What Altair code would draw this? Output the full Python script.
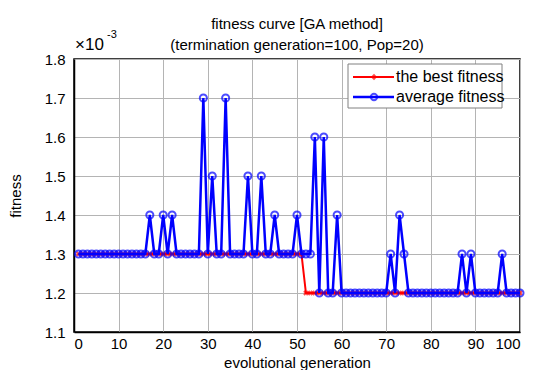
import altair as alt
import pandas as pd

# ---------------- data ----------------
generations = list(range(1, 101))

best_fitness = [
    1.3, 1.3, 1.3, 1.3, 1.3, 1.3, 1.3, 1.3, 1.3, 1.3,
    1.3, 1.3, 1.3, 1.3, 1.3, 1.3, 1.3, 1.3, 1.3, 1.3,
    1.3, 1.3, 1.3, 1.3, 1.3, 1.3, 1.3, 1.3, 1.3, 1.3,
    1.3, 1.3, 1.3, 1.3, 1.3, 1.3, 1.3, 1.3, 1.3, 1.3,
    1.3, 1.3, 1.3, 1.3, 1.3, 1.3, 1.3, 1.3, 1.3, 1.3,
    1.3, 1.2, 1.2, 1.2, 1.2, 1.2, 1.2, 1.2, 1.2, 1.2,
    1.2, 1.2, 1.2, 1.2, 1.2, 1.2, 1.2, 1.2, 1.2, 1.2,
    1.2, 1.2, 1.2, 1.2, 1.2, 1.2, 1.2, 1.2, 1.2, 1.2,
    1.2, 1.2, 1.2, 1.2, 1.2, 1.2, 1.2, 1.2, 1.2, 1.2,
    1.2, 1.2, 1.2, 1.2, 1.2, 1.2, 1.2, 1.2, 1.2, 1.2,
]

average_fitness = [
    1.3, 1.3, 1.3, 1.3, 1.3, 1.3, 1.3, 1.3, 1.3, 1.3,
    1.3, 1.3, 1.3, 1.3, 1.3, 1.3, 1.4, 1.3, 1.3, 1.4,
    1.3, 1.4, 1.3, 1.3, 1.3, 1.3, 1.3, 1.3, 1.7, 1.3,
    1.5, 1.3, 1.3, 1.7, 1.3, 1.3, 1.3, 1.3, 1.5, 1.3,
    1.3, 1.5, 1.3, 1.3, 1.4, 1.3, 1.3, 1.3, 1.3, 1.4,
    1.3, 1.3, 1.3, 1.6, 1.2, 1.6, 1.2, 1.2, 1.4, 1.2,
    1.2, 1.2, 1.2, 1.2, 1.2, 1.2, 1.2, 1.2, 1.2, 1.2,
    1.3, 1.2, 1.4, 1.3, 1.2, 1.2, 1.2, 1.2, 1.2, 1.2,
    1.2, 1.2, 1.2, 1.2, 1.2, 1.2, 1.3, 1.2, 1.3, 1.2,
    1.2, 1.2, 1.2, 1.2, 1.2, 1.3, 1.2, 1.2, 1.2, 1.2,
]

x_ticks = [0, 10, 20, 30, 40, 50, 60, 70, 80, 90, 100]
y_ticks = [1.1, 1.2, 1.3, 1.4, 1.5, 1.6, 1.7, 1.8]
series_names = ["the best fitness", "average fitness"]
title_lines = ["fitness curve [GA method]", "(termination generation=100, Pop=20)"]

FONT = "Liberation Sans"
W, H = 446, 273

best_df = pd.DataFrame({"gen": generations, "value": best_fitness})
avg_df = pd.DataFrame({"gen": generations, "value": average_fitness})
one = pd.DataFrame({"k": [0]})  # single row for annotations

x_enc = alt.X(
    "gen:Q",
    scale=alt.Scale(domain=[0, 100], nice=False, zero=False),
    axis=alt.Axis(
        values=x_ticks, title="evolutional generation", format="d",
        titleX=W / 2, titleY=30, titleBaseline="middle", labelOverlap=False,
    ),
)
y_enc = alt.Y(
    "value:Q",
    scale=alt.Scale(domain=[1.1, 1.8], nice=False, zero=False),
    axis=alt.Axis(
        values=y_ticks, title="fitness", format=".1f", labelOverlap=False,
        tickCount=8, titleX=-59, titleY=H / 2, titleBaseline="middle", titleAngle=-90,
        titleAlign="center",
    ),
)

best_line = alt.Chart(best_df).mark_line(color="#ff0000", strokeWidth=2).encode(x=x_enc, y=y_enc)
best_pts = alt.Chart(best_df).mark_point(
    shape="cross", angle=45, color="#ff0000", filled=True, size=30
).encode(x=x_enc, y=y_enc)
avg_line = alt.Chart(avg_df).mark_line(color="#0000ff", strokeWidth=2.5).encode(x=x_enc, y=y_enc)
avg_pts = alt.Chart(avg_df).mark_point(
    shape="circle", color="#0000ff", filled=False, size=50, strokeWidth=2
).encode(x=x_enc, y=y_enc)


def label(text, x, y, size, align="center"):
    return alt.Chart(one).mark_text(
        text=text, font=FONT, fontSize=size, align=align, baseline="middle", color="black"
    ).encode(x=alt.value(x), y=alt.value(y))


# title lines
title1 = label(title_lines[0], W / 2, -35, 15)
title2 = label(title_lines[1], W / 2, -14, 15)

# exponent annotation (x10^-3)
exp_main = label("×10", 1, -14, 17, "left")
exp_sup = label("-3", 33, -24, 11, "left")

# legend box
leg_box = alt.Chart(one).mark_rect(
    fill="white", stroke="#808080", strokeWidth=1
).encode(x=alt.value(274), x2=alt.value(428), y=alt.value(5), y2=alt.value(49))
leg_line_best = alt.Chart(one).mark_rule(color="#ff0000", strokeWidth=2).encode(
    x=alt.value(279), x2=alt.value(320), y=alt.value(18))
leg_pt_best = alt.Chart(one).mark_point(
    shape="diamond", color="#ff0000", filled=True, size=40
).encode(x=alt.value(300), y=alt.value(18))
leg_line_avg = alt.Chart(one).mark_rule(color="#0000ff", strokeWidth=2.5).encode(
    x=alt.value(279), x2=alt.value(320), y=alt.value(38))
leg_pt_avg = alt.Chart(one).mark_point(
    shape="circle", color="#0000ff", filled=False, size=40, strokeWidth=2
).encode(x=alt.value(300), y=alt.value(38))
leg_txt_best = label(series_names[0], 322, 18, 16, "left")
leg_txt_avg = label(series_names[1], 322, 38, 16, "left")

chart = alt.layer(
    best_line, best_pts, avg_line, avg_pts,
    title1, title2, exp_main, exp_sup,
    leg_box, leg_line_best, leg_pt_best, leg_line_avg, leg_pt_avg, leg_txt_best, leg_txt_avg,
).properties(
    width=W,
    height=H,
    autosize=alt.AutoSizeParams(type="none"),
    padding={"left": 66, "top": 51, "right": 6, "bottom": 38},
).configure_view(
    stroke="black", strokeWidth=1.5
).configure_axis(
    labelFont=FONT, labelFontSize=15, labelColor="black",
    titleFont=FONT, titleFontSize=15, titleColor="black", titleFontWeight="normal",
    domainColor="black", domainWidth=1.5,
    gridColor="#b4b4b4", gridWidth=1, gridOpacity=1,
    ticks=False, labelPadding=4,
).configure_axisY(
    labelPadding=9,
)

chart.save("out.html", embed_options={"renderer": "svg", "actions": False})
